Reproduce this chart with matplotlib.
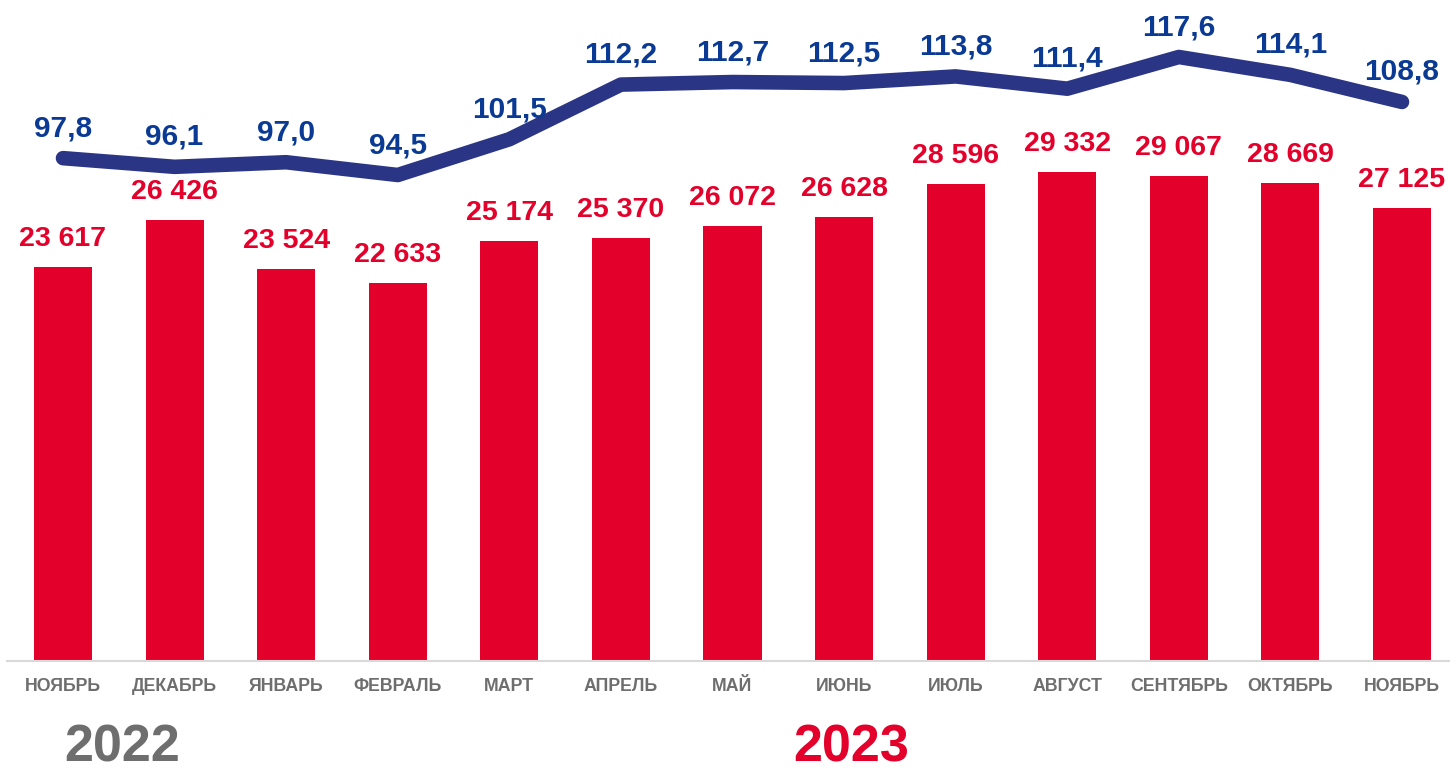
import matplotlib
matplotlib.use("Agg")
import matplotlib.pyplot as plt

plt.rcParams['font.family'] = ['Liberation Sans', 'DejaVu Sans']

months = ['НОЯБРЬ', 'ДЕКАБРЬ', 'ЯНВАРЬ', 'ФЕВРАЛЬ', 'МАРТ', 'АПРЕЛЬ', 'МАЙ',
          'ИЮНЬ', 'ИЮЛЬ', 'АВГУСТ', 'СЕНТЯБРЬ', 'ОКТЯБРЬ', 'НОЯБРЬ']
bars = [23617, 26426, 23524, 22633, 25174, 25370, 26072,
        26628, 28596, 29332, 29067, 28669, 27125]
index = [97.8, 96.1, 97.0, 94.5, 101.5, 112.2, 112.7,
         112.5, 113.8, 111.4, 117.6, 114.1, 108.8]
years = ['2022', '2023']

red = '#E3002B'
navy = '#2B3585'
label_blue = '#0B3A94'
gray = '#6E6E6E'

fig = plt.figure(figsize=(14.5, 7.72), dpi=100)
W, H = 1450, 772
ax = fig.add_axes([7.2 / W, (H - 661) / H, 1450.6 / W, 661 / H])
x = list(range(len(months)))

ax.bar(x, bars, width=0.52, color=red, zorder=2)
ax.set_xlim(-0.5, 12.5)
ax.set_ylim(0, 39621)
for xi, v in zip(x, bars):
    ax.annotate(f"{v:,}".replace(",", " "), (xi, v), xytext=(0, 28),
                textcoords='offset pixels', ha='center', va='center',
                fontsize=20.5, fontweight='bold', color=red)

for s in ['top', 'right', 'left']:
    ax.spines[s].set_visible(False)
ax.spines['bottom'].set_color('#D9D9D9')
ax.spines['bottom'].set_linewidth(1.5)
ax.set_yticks([])
ax.set_xticks(x)
ax.set_xticklabels(months, fontsize=12.8, fontweight='bold', color=gray)
ax.tick_params(axis='x', length=0, pad=12)

ax2 = ax.twinx()
ax2.set_ylim(-0.64, 128.76)
ax2.plot(x, index, color=navy, lw=10.5, solid_capstyle='round',
         solid_joinstyle='round', zorder=3)
for xi, v in zip(x, index):
    ax2.annotate(f"{v:.1f}".replace(".", ","), (xi, v), xytext=(0, 30),
                 textcoords='offset pixels', ha='center', va='center',
                 fontsize=21.5, fontweight='bold', color=label_blue)
ax2.axis('off')

fig.text(122 / W, (H - 748) / H, years[0], ha='center', va='center',
         fontsize=37.5, fontweight='bold', color=gray)
fig.text(851 / W, (H - 748) / H, years[1], ha='center', va='center',
         fontsize=37.5, fontweight='bold', color=red)

fig.savefig('out.png', dpi=100)
